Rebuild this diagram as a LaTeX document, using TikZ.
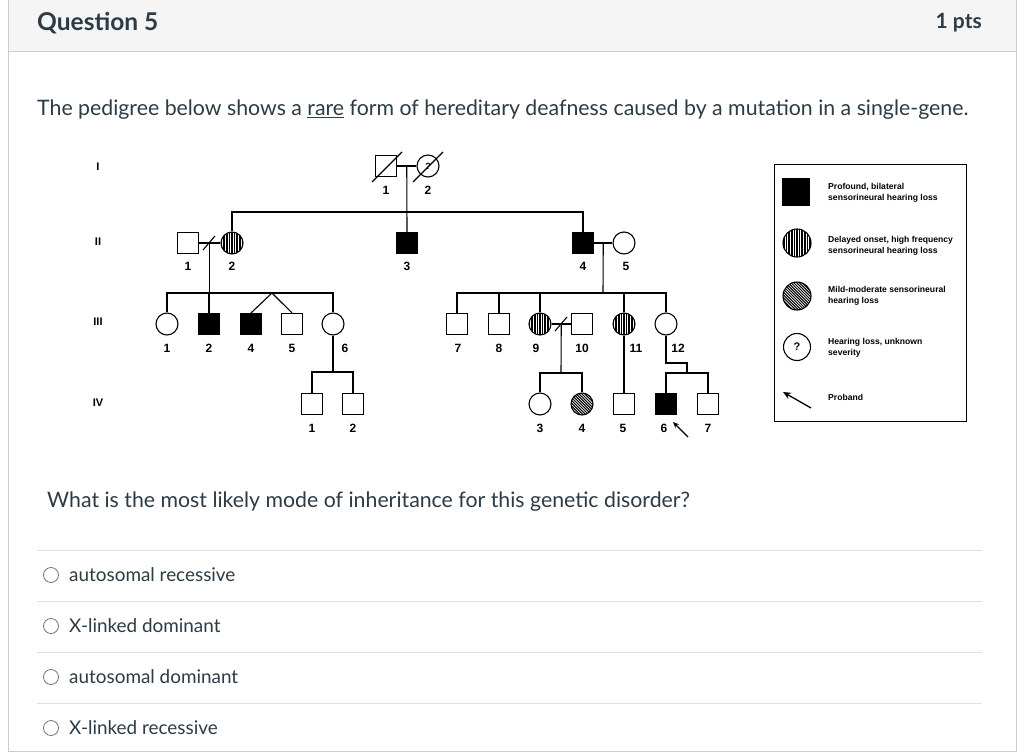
\documentclass[tikz,border=0pt]{standalone}
\usepackage{fontspec}
\setmainfont{Lato}
\newfontfamily\pedfont{Liberation Sans}
\usetikzlibrary{calc,arrows.meta}
\definecolor{canvastext}{HTML}{2D3B45}
\definecolor{hdrbg}{HTML}{F5F5F5}
\definecolor{hdrline}{HTML}{C7CDD1}
\definecolor{sepline}{HTML}{DDE0E3}
\begin{document}
\begin{tikzpicture}[x=1pt,y=-1pt,
  ped/.style={line width=1.1pt, black},
  sq/.style={draw, line width=1.1pt, rectangle, minimum size=21pt, inner sep=0pt, fill=white},
  ci/.style={draw, line width=1.1pt, circle, minimum size=22pt, inner sep=0pt, fill=white},
  aff/.style={fill=black},
  vst/.style={path picture={\foreach \i in {-15.6,-13,...,15.6} \draw[line width=1.5pt] ([xshift=\i pt, yshift=16pt]path picture bounding box.center) -- ++(0,-32pt);}},
  dst/.style={path picture={\foreach \i in {-32,-29.2,...,32} \draw[line width=1pt] ([shift={(\i pt-16pt,16pt)}]path picture bounding box.center) -- ++(32pt,-32pt);}},
  num/.style={font=\pedfont\bfseries\fontsize{12}{13}\selectfont, inner sep=0pt},
  gen/.style={font=\pedfont\bfseries\fontsize{11}{12}\selectfont, inner sep=0pt},
  leg/.style={font=\pedfont\bfseries\fontsize{8.6}{10.5}\selectfont, align=left, anchor=west, inner sep=0pt},
  qtext/.style={text=canvastext, anchor=west, inner sep=0pt},
  radio/.style={circle, draw=black!55, line width=0.8pt, minimum size=15pt, inner sep=0pt}
]
\useasboundingbox (0,0) rectangle (1024,752);
% card frame
\fill[white] (0,0) rectangle (1024,752);
\fill[hdrbg] (8,0) rectangle (1016,52);
\draw[hdrline, line width=1pt] (8,52) -- (1016,52);
\draw[hdrline, line width=1pt] (8,0) -- (8,752);
\draw[hdrline, line width=1pt] (1016,0) -- (1016,752);
\draw[hdrline, line width=1pt] (8,751) -- (1016,751);
\node[qtext, font=\bfseries\fontsize{24.5}{28}\selectfont] (qtitle) at (37,23) {Question 5};
\node[qtext, anchor=east, font=\bfseries\fontsize{21}{24}\selectfont] (pts) at (982,23) {1 pts};
\node[qtext, font=\fontsize{21.3}{25}\selectfont] (stem) at (37,110) {The pedigree below shows a \underline{rare} form of hereditary deafness caused by a mutation in a single-gene.};
\node[qtext, font=\fontsize{21.3}{25}\selectfont] (ask) at (47,502) {What is the most likely mode of inheritance for this genetic disorder?};
% answers
\foreach \y/\t [count=\k] in {575/autosomal recessive, 626/X-linked dominant, 677/autosomal dominant, 728/X-linked recessive}{
  \draw[sepline, line width=1pt] (37,\y-25) -- (982,\y-25);
  \node[radio] (r\k) at (51,\y) {};
  \node[qtext, font=\fontsize{18.9}{22}\selectfont] (a\k) at (69,\y) {\t};
}
% generation labels
\node[gen] (gI) at (98,167) {I};
\node[gen] (gII) at (98,242) {II};
\node[gen] (gIII) at (98,322) {III};
\node[gen] (gIV) at (98,403) {IV};
% ---- Generation I
\node[sq] (I1) at (386,166) {};
\node[ci, font=\pedfont\bfseries\fontsize{9}{10}\selectfont] (I2) at (428,166) {?};
\draw[ped] ($(I1)+(-14,16)$) -- ($(I1)+(16,-14)$);
\draw[ped] ($(I2)+(-15,16)$) -- ($(I2)+(15,-14)$);
\draw[ped] (I1) -- (I2);
\coordinate (m1) at ($(I1.east)!0.5!(I2.west)$);
% ---- Generation II
\node[sq] (II1) at (188,243) {};
\node[ci, vst] (II2) at (232,243) {};
\node[sq, aff] (II3) at (407,243) {};
\node[sq, aff] (II4) at (583,243) {};
\node[ci] (II5) at (624,243) {};
\draw[ped] (m1) -- (II3.north);
\coordinate (s2) at (407,212);
\draw[ped] (II2.north) |- (s2) -| (II4.north);
\draw[ped] (II1) -- (II2);
\draw[ped] (203,250) -- (215,236);
\coordinate (m2) at ($(II1.east)!0.5!(II2.west)$);
\draw[ped] (II4) -- (II5);
\coordinate (m3) at ($(II4.east)!0.5!(II5.west)$);
% ---- Generation III
\node[ci] (III1) at (167,324) {};
\node[sq, aff] (III2) at (209,324) {};
\node[sq, aff] (III4) at (251,324) {};
\node[sq] (III5) at (292,324) {};
\node[ci] (III6) at (333,324) {};
\coordinate (s3a) at (209,293);
\coordinate (tw) at (272,293);
\draw[ped] (m2) -- (m2 |- s3a);
\draw[ped] (III1.north) |- (s3a) -| (III6.north);
\draw[ped] (s3a) -- (III2.north);
\draw[ped] (III4.north) -- (tw) -- (III5.north);
\node[sq] (III7) at (457,324) {};
\node[sq] (III8) at (499,324) {};
\node[ci, vst] (III9) at (540,324) {};
\node[sq] (III10) at (582,324) {};
\node[ci, vst] (III11) at (624,324) {};
\node[ci] (III12) at (666,324) {};
\coordinate (s3b) at (603,293);
\draw[ped] (m3) -- (s3b);
\draw[ped] (III7.north) |- (s3b) -| (III12.north);
\draw[ped] (III8.north) -- (III8.north |- s3b);
\draw[ped] (III9.north) -- (III9.north |- s3b);
\draw[ped] (III11.north) -- (III11.north |- s3b);
\draw[ped] (III9) -- (III10);
\draw[ped] (555,331) -- (567,317);
\coordinate (m4) at ($(III9.east)!0.5!(III10.west)$);
% ---- Generation IV
\node[sq] (IV1) at (312,404) {};
\node[sq] (IV2) at (353,404) {};
\node[ci] (IV3) at (540,404) {};
\node[ci, dst] (IV4) at (582,404) {};
\node[sq] (IV5) at (624,404) {};
\node[sq, aff] (IV6) at (666,404) {};
\node[sq] (IV7) at (708,404) {};
\coordinate (s4a) at (333,372);
\draw[ped] (III6.south) -- (s4a);
\draw[ped] (IV1.north) |- (s4a) -| (IV2.north);
\coordinate (s4b) at (561,373);
\draw[ped] (m4) -- (s4b);
\draw[ped] (IV3.north) |- (s4b) -| (IV4.north);
\draw[ped] (III11.south) -- (IV5.north);
\coordinate (k1) at (666,363);
\coordinate (k2) at (687,373);
\draw[ped] (III12.south) -- (k1) -| (k2);
\draw[ped] (IV6.north) |- (k2) -| (IV7.north);
\coordinate (prT) at (688,437);
\coordinate (prH) at (673,422);
\draw[ped, -{Stealth[length=6pt,width=5pt]}] (prT) -- (prH);
% ---- numbers
\foreach \x/\y/\t [count=\k] in {386/190/1, 428/190/2,
  188/266/1, 232/266/2, 407/266/3, 583/266/4, 626/266/5,
  167/348/1, 209/348/2, 251/348/4, 292/348/5, 345/348/6,
  458/348/7, 499/348/8, 536/348/9, 582/348/10, 636/348/11, 678/348/12,
  312/428/1, 353/428/2, 540/428/3, 582/428/4, 623/428/5, 664/428/6, 708/428/7}{
  \node[num] (n\k) at (\x,\y) {\t};
}
% ---- legend
\node[draw, line width=1.2pt, minimum width=192pt, minimum height=257pt, anchor=north west, inner sep=0pt] (legbox) at (774,164) {};
\node[sq, aff, minimum size=27pt] (L1) at (796,192) {};
\node[ci, vst, minimum size=28pt] (L2) at (797,243) {};
\node[ci, dst, minimum size=28pt] (L3) at (797,296) {};
\node[ci, minimum size=27pt, font=\pedfont\bfseries\fontsize{11}{12}\selectfont] (L4) at (797,347) {?};
\coordinate (lT) at (811,408);
\coordinate (lH) at (783,392);
\draw[ped, line width=1.3pt, -{Stealth[length=8pt,width=7pt]}] (lT) -- (lH);
\node[leg] (t1) at (828,193) {Profound, bilateral\\sensorineural hearing loss};
\node[leg] (t2) at (828,246) {Delayed onset, high frequency\\sensorineural hearing loss};
\node[leg] (t3) at (828,296) {Mild-moderate sensorineural\\hearing loss};
\node[leg] (t4) at (828,348) {Hearing loss, unknown\\severity};
\node[leg] (t5) at (828,397) {Proband};
\end{tikzpicture}
\end{document}
